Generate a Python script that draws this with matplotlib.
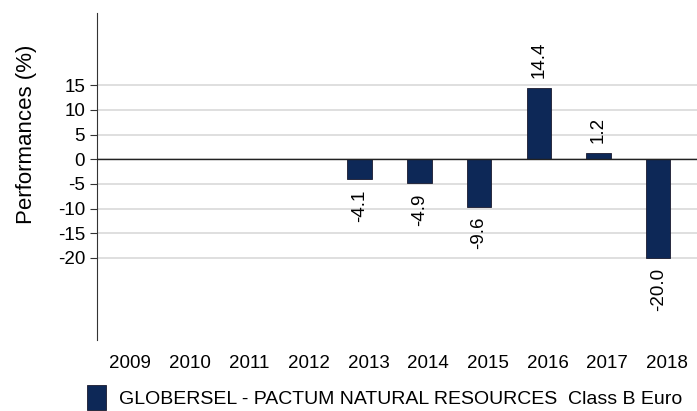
import numpy as np
import matplotlib
matplotlib.use('Agg')
import matplotlib.pyplot as plt

plt.rcParams['font.family'] = ['Liberation Sans', 'DejaVu Sans']
plt.rcParams['axes.unicode_minus'] = False

years = ['2009', '2010', '2011', '2012', '2013', '2014', '2015', '2016', '2017', '2018']
perf = [np.nan, np.nan, np.nan, np.nan, -4.1, -4.9, -9.6, 14.4, 1.2, -20.0]
label_name = 'GLOBERSEL - PACTUM NATURAL RESOURCES  Class B Euro'

fig = plt.figure(figsize=(6.97, 4.11), dpi=100)
ax = fig.add_axes([0.139, 0.173, 0.861, 0.795])

x = np.arange(len(years))
bars = ax.bar(x - 0.15, perf, width=0.41, color='#0d2857', edgecolor='#1a1a2e',
              linewidth=0.6, label=label_name, zorder=3)

# etiquetas das barras
for xi, v in zip(x, perf):
    if np.isnan(v):
        continue
    if v >= 0:
        ax.text(xi - 0.15, v + 2, f'{v:.1f}', rotation=90, ha='center', va='bottom', fontsize=13.5)
    else:
        ax.text(xi - 0.15, v - 2, f'{v:.1f}', rotation=90, ha='center', va='top', fontsize=13.5)

ax.set_xlim(-0.55, 9.5)
ax.set_ylim(-36.6, 29.6)
ax.set_yticks([-20, -15, -10, -5, 0, 5, 10, 15])
ax.set_xticks(x)
ax.set_xticklabels(years)
ax.tick_params(axis='x', length=0, labelsize=13.5, pad=11)
ax.tick_params(axis='y', length=5, labelsize=13.5, color='#333333')
ax.yaxis.grid(True, color='#d9d9d9', linewidth=1.2, zorder=0)
ax.axhline(0, color='#222222', linewidth=1, zorder=4)

for s in ['top', 'right', 'bottom']:
    ax.spines[s].set_visible(False)
ax.spines['left'].set_color('#333333')
ax.set_ylabel('Performances (%)', fontsize=16)
ax.yaxis.set_label_coords(-0.1, 0.63)

fig.legend(handles=[bars], labels=[label_name], loc='lower left', bbox_to_anchor=(0.1, -0.04),
           frameon=False, fontsize=14, handlelength=0.95, handleheight=1.6, handletextpad=0.7)

fig.savefig('out.png', dpi=100)
